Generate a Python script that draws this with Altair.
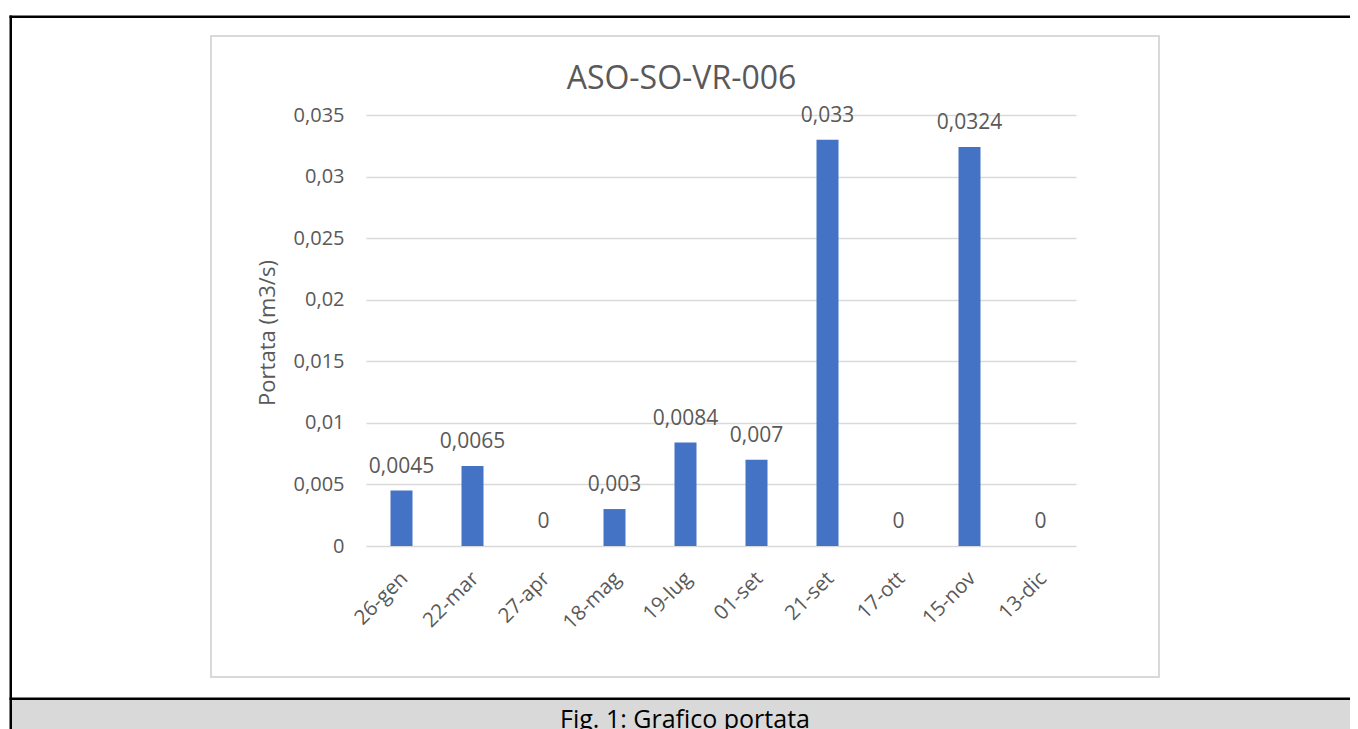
import altair as alt
import pandas as pd

# ---- data ----
dates = ["26-gen", "22-mar", "27-apr", "18-mag", "19-lug",
         "01-set", "21-set", "17-ott", "15-nov", "13-dic"]
portata = [0.0045, 0.0065, 0, 0.003, 0.0084, 0.007, 0.033, 0, 0.0324, 0]
y_ticks = [0, 0.005, 0.01, 0.015, 0.02, 0.025, 0.03, 0.035]
chart_title = "ASO-SO-VR-006"
y_title = "Portata (m3/s)"
caption = "Fig. 1: Grafico portata"

df = pd.DataFrame({"data": dates, "portata": portata})

FONT = "Open Sans"
TXT = "#595959"
GRID = "#d9d9d9"
BAR = "#4472C4"

W, H = 710, 431
PAD_L, PAD_T = 358, 107
TOTAL_W, TOTAL_H = 1342, 721


def px(xp):  # page x -> view-relative x
    return xp - 8 - PAD_L


def py(yp):  # page y -> view-relative y
    return yp - 8 - PAD_T


x_enc = alt.X("data:N", sort=dates, title=None,
              axis=alt.Axis(labelAngle=-45, labelAlign="right", labelBaseline="top",
                            labelFontSize=20.5, labelColor=TXT, labelFont=FONT,
                            ticks=False, domain=False, grid=False, labelPadding=22,
                            labelOffset=-4))
y_enc = alt.Y("portata:Q", scale=alt.Scale(domain=[0, 0.035], nice=False),
              axis=alt.Axis(values=y_ticks,
                            labelExpr="replace(toString(datum.value), '.', ',')",
                            title=y_title, titleFont=FONT, titleFontSize=22,
                            titleFontWeight="normal", titleColor=TXT,
                            titleX=-92, titleY=217.5, titleAlign="center",
                            titleBaseline="alphabetic", titleAngle=270,
                            labelFont=FONT, labelFontSize=20, labelColor=TXT,
                            labelPadding=22, ticks=False, domain=False,
                            grid=True, gridColor=GRID, gridWidth=1.5))

bars = alt.Chart(df).mark_bar(color=BAR, size=22).encode(x=x_enc, y=y_enc)
labels = alt.Chart(df).transform_calculate(
    lab="replace(toString(datum.portata), '.', ',')"
).mark_text(font=FONT, fontSize=21, color=TXT, dy=-18, baseline="alphabetic").encode(
    x=x_enc, y=y_enc, text="lab:N")

deco = alt.Chart(pd.DataFrame({"k": [0]}))

caption_bg = deco.mark_rect(fill="#d9d9d9").encode(
    x=alt.value(px(12)), x2=alt.value(px(TOTAL_W + 8)),
    y=alt.value(py(700)), y2=alt.value(py(TOTAL_H + 8)))
left_border = deco.mark_rule(color="black", strokeWidth=2.5).encode(
    x=alt.value(px(10.75)), y=alt.value(py(15.5)), y2=alt.value(py(TOTAL_H + 8)))
top_border = deco.mark_rule(color="black", strokeWidth=2.5).encode(
    y=alt.value(py(16.7)), x=alt.value(px(9.5)), x2=alt.value(px(TOTAL_W + 8)))
bottom_border = deco.mark_rule(color="black", strokeWidth=2.5).encode(
    y=alt.value(py(698.8)), x=alt.value(px(9.5)), x2=alt.value(px(TOTAL_W + 8)))
frame = deco.mark_rect(filled=False, stroke=GRID, strokeWidth=2).encode(
    x=alt.value(px(211)), x2=alt.value(px(1159)),
    y=alt.value(py(36)), y2=alt.value(py(677)))
title_txt = deco.mark_text(font=FONT, fontSize=32, color=TXT, align="center",
                           baseline="alphabetic").encode(
    x=alt.value(px(681.5)), y=alt.value(py(89)), text=alt.value(chart_title))
caption_txt = deco.mark_text(font=FONT, fontSize=25, color="#000000", align="center",
                             baseline="alphabetic").encode(
    x=alt.value(px(685)), y=alt.value(py(727.5)), text=alt.value(caption))

chart = alt.layer(
    caption_bg, left_border, top_border, bottom_border, frame,
    title_txt, caption_txt, bars, labels
).properties(
    width=W, height=H,
    padding={"left": PAD_L, "top": PAD_T,
             "right": TOTAL_W - PAD_L - W, "bottom": TOTAL_H - PAD_T - H},
    autosize=alt.AutoSizeParams(type="none"),
    background="white",
).configure_view(stroke=None)

chart.save("out.html", embed_options={"renderer": "svg", "actions": False})
